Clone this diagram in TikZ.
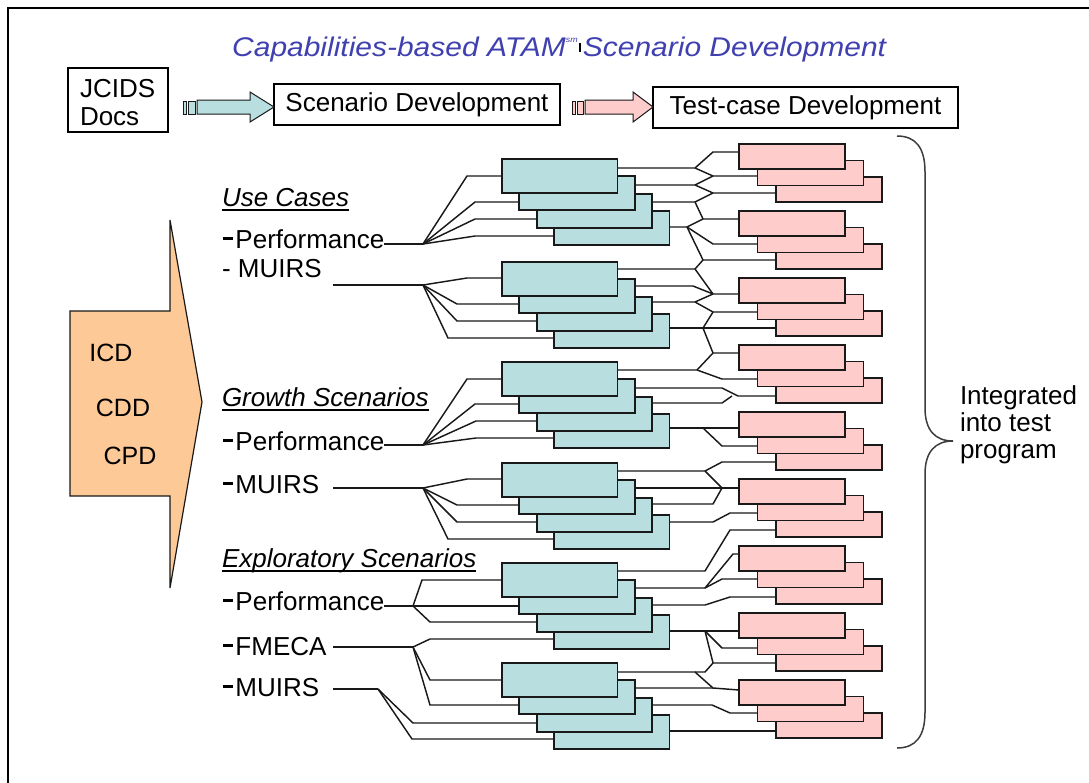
\documentclass[tikz,border=0pt]{standalone}
\usepackage{fontspec}
\setmainfont{Liberation Sans}
\newfontfamily\titlefont[FakeStretch=1.11]{Liberation Sans}
\usetikzlibrary{calc}
\definecolor{cy}{RGB}{184,222,224}
\definecolor{pk}{RGB}{255,204,204}
\definecolor{og}{RGB}{252,201,151}
\definecolor{tb}{RGB}{64,64,176}
\definecolor{ln}{RGB}{25,25,25}
\newcommand{\bdash}{\rule[0.29em]{0.4em}{0.12em}\hspace{0.08em}}
\begin{document}
\begin{tikzpicture}[x=1pt,y=-1pt,
  cbox/.style={draw=ln,line width=1.9pt,fill=cy,minimum width=115.5pt,minimum height=34pt,inner sep=0pt,outer sep=0pt,anchor=north west},
  pbox/.style={draw=ln,line width=1.9pt,fill=pk,minimum width=106pt,minimum height=25pt,inner sep=0pt,outer sep=0pt,anchor=north west},
  wire/.style={draw=ln,line width=1.45pt,line join=miter},
  lbl/.style={inner sep=0pt,outer sep=0pt,anchor=base west,font=\fontsize{26}{30}\selectfont},
  tbox/.style={draw=black,line width=1.2pt,fill=white,inner sep=0pt,outer sep=0pt,anchor=north west,font=\fontsize{26}{30}\selectfont},
  arr/.style={draw=ln,line width=1pt,line join=miter},
]
\useasboundingbox (0,0) rectangle (1089,782);
\fill[white] (0,0) rectangle (1089,782);
\draw[line width=2.5pt] (8,790) -- (8,8) -- (1100,8);

% title
\node[anchor=base west,inner sep=0pt,text=tb,font=\titlefont\itshape\fontsize{27}{30}\selectfont] (title) at (232,56)
  {Capabilities-based ATAM\raisebox{0.5em}{\fontsize{8}{8}\selectfont sm}\kern1pt{\color{black}\rule[0.15em]{2.2pt}{0.35em}}\kern2pt Scenario Development};

% top row
\node[tbox,minimum width=100pt,minimum height=64pt] (jc) at (68,68) {};
\node[lbl] (jct1) at (80,97) {JCIDS};
\node[lbl] (jct2) at (80,125) {Docs};
\node[tbox,minimum width=286pt,minimum height=41pt] (sd) at (274,84) {Scenario Development};
\node[tbox,minimum width=305pt,minimum height=41pt] (td) at (653,87) {Test-case Development};

\draw[arr,fill=cy] (183,101) rectangle (186,114);
\draw[arr,fill=cy] (188,101) rectangle (195,114);
\draw[arr,fill=cy] (197,100) -- (250,100) -- (250,92) -- (sd.west |- 0,107) -- (250,122) -- (250,114) -- (197,114) -- cycle;
\draw[arr,fill=pk] (572,101) rectangle (575,114);
\draw[arr,fill=pk] (577,101) rectangle (583,114);
\draw[arr,fill=pk] (585,100) -- (633,100) -- (633,92) -- (td.west |- 0,107) -- (633,122) -- (633,114) -- (585,114) -- cycle;

% orange arrow
\draw[fill=og,draw=ln,line width=1.2pt,line join=miter] (70,311) -- (170,311) -- (170,220) -- (202,402) -- (170,588) -- (170,496) -- (70,496) -- cycle;
\node[lbl,font=\fontsize{25}{30}\selectfont,anchor=base] (icd) at (111,361) {ICD};
\node[lbl,font=\fontsize{25}{30}\selectfont,anchor=base] (cdd) at (123,416) {CDD};
\node[lbl,font=\fontsize{25}{30}\selectfont,anchor=base] (cpd) at (130,464) {CPD};

% left labels
\node[lbl] (uc) at (222,206) {\itshape Use Cases};
\node[lbl] (pf1) at (223,248) {\bdash Performance};
\node[lbl] (mu1) at (222,277) {- MUIRS};
\node[lbl] (gs) at (222,406) {\itshape Growth Scenarios};
\node[lbl] (pf2) at (223,450) {\bdash Performance};
\node[lbl] (mu2) at (223,493) {\bdash MUIRS};
\node[lbl] (es) at (222,567) {\itshape Exploratory Scenarios};
\node[lbl] (pf3) at (223,610) {\bdash Performance};
\node[lbl] (fm) at (223,655) {\bdash FMECA};
\node[lbl] (mu3) at (223,696) {\bdash MUIRS};
\foreach \n in {uc,gs,es}{
  \draw[line width=1.3pt] ($(\n.base west)+(0,4)$) -- ($(\n.base east)+(0,4)$);
}

% boxes
\foreach \g/\T in {1/159,2/262,3/362,4/463,5/563,6/663}{
  \foreach \i in {4,3,2,1}{
    \node[cbox] (c\g-\i) at ({502+17.33*(\i-1)},{\T+17.33*(\i-1)}) {};
  }
}
\foreach \g/\T in {1/144,2/211,3/278,4/345,5/412,6/479,7/546,8/613,9/680}{
  \foreach \i in {3,2,1}{
    \node[pbox] (p\g-\i) at ({739+18.5*(\i-1)},{\T+16.5*(\i-1)}) {};
  }
}

% left fans
\coordinate (h1) at (423,244);
\coordinate (h2) at (423,285);
\coordinate (h3) at (423,445);
\coordinate (h4) at (423,488);
\coordinate (h5) at (413,606);
\coordinate (h6) at (413,647);
\coordinate (h7) at (378,689);
\coordinate (s2) at (333,285);
\coordinate (s4) at (333,488);
\coordinate (s6) at (333,647);
\coordinate (s7) at (333,689);
\draw[wire] (pf1.east |- h1) -- (h1);
\draw[wire] (s2) -- (h2);
\draw[wire] (pf2.east |- h3) -- (h3);
\draw[wire] (s4) -- (h4);
\draw[wire] (pf3.east |- h5) -- (h5);
\draw[wire] (s6) -- (h6);
\draw[wire] (s7) -- (h7);

\draw[wire] (h1) -- (467,176) -- (c1-1.west |- 0,176);
\draw[wire] (h1) -- (475,202) -- (c1-2.west |- 0,202);
\draw[wire] (h1) -- (475,219) -- (c1-3.west |- 0,219);
\draw[wire] (h1) -- (475,236) -- (c1-4.west |- 0,236);

\draw[wire] (h2) -- (467,278) -- (c2-1.west |- 0,278);
\draw[wire] (h2) -- (457,304) -- (c2-2.west |- 0,304);
\draw[wire] (h2) -- (457,321) -- (c2-3.west |- 0,321);
\draw[wire] (h2) -- (448,338) -- (c2-4.west |- 0,338);

\draw[wire] (h3) -- (467,379) -- (c3-1.west |- 0,379);
\draw[wire] (h3) -- (475,404) -- (c3-2.west |- 0,404);
\draw[wire] (h3) -- (476,421) -- (c3-3.west |- 0,421);
\draw[wire] (h3) -- (476,438) -- (c3-4.west |- 0,438);

\draw[wire] (h4) -- (467,479) -- (c4-1.west |- 0,479);
\draw[wire] (h4) -- (457,505) -- (c4-2.west |- 0,505);
\draw[wire] (h4) -- (457,522) -- (c4-3.west |- 0,522);
\draw[wire] (h4) -- (448,539) -- (c4-4.west |- 0,539);

\draw[wire] (h5) -- (422,580) -- (c5-1.west |- 0,580);
\draw[wire] (h5) -- (c5-2.west |- h5);
\draw[wire] (h5) -- (430,622) -- (c5-3.west |- 0,622);
\draw[wire] (h6) -- (430,639) -- (c5-4.west |- 0,639);
\draw[wire] (h6) -- (430,680) -- (c6-1.west |- 0,680);
\draw[wire] (h6) -- (430,705) -- (c6-2.west |- 0,705);
\draw[wire] (h7) -- (413,723) -- (c6-3.west |- 0,723);
\draw[wire] (h7) -- (412,739) -- (c6-4.west |- 0,739);

% right network
\draw[wire] (c1-1.east |- 0,168) -- (695,168) -- (713,152) -- (p1-1.west |- 0,152);
\draw[wire] (695,168) -- (713,176) -- (p1-2.west |- 0,176);
\draw[wire] (c1-2.east |- 0,185) -- (695,185) -- (713,176);
\draw[wire] (695,185) -- (713,193) -- (p1-3.west |- 0,193);
\draw[wire] (c1-3.east |- 0,202) -- (695,202) -- (713,193);
\draw[wire] (695,202) -- (703,219) -- (p2-1.west |- 0,219);
\draw[wire] (c1-4.east |- 0,227) -- (687,227) -- (703,219);
\draw[wire] (687,227) -- (713,244) -- (p2-2.west |- 0,244);
\draw[wire] (687,227) -- (703,260) -- (p2-3.west |- 0,260);
\draw[wire] (c2-1.east |- 0,269) -- (695,269) -- (703,260);
\draw[wire] (695,269) -- (713,294) -- (p3-1.west |- 0,294);
\draw[wire] (c2-2.east |- 0,286) -- (693,286) -- (713,294);
\draw[wire] (c2-3.east |- 0,302) -- (695,302) -- (713,294);
\draw[wire] (695,302) -- (713,312) -- (p3-2.west |- 0,312);
\draw[wire] (c2-4.east |- 0,328) -- (p3-3.west |- 0,328);
\draw[wire] (703,328) -- (713,312);
\draw[wire] (703,328) -- (713,353) -- (p4-1.west |- 0,353);

\draw[wire] (c3-1.east |- 0,370) -- (697,370) -- (713,353);
\draw[wire] (697,370) -- (722,379) -- (p4-2.west |- 0,379);
\draw[wire] (c3-2.east |- 0,388) -- (722,388) -- (738,396) -- (p4-3.west |- 0,396);
\draw[wire] (c3-3.east |- 0,403) -- (722,403) -- (732,396);
\draw[wire] (c3-4.east |- 0,428) -- (p5-1.west |- 0,428);
\draw[wire] (703,428) -- (722,446) -- (p5-2.west |- 0,446);
\draw[wire] (c4-1.east |- 0,471) -- (705,471) -- (722,462) -- (p5-3.west |- 0,462);
\draw[wire] (705,471) -- (722,488);
\draw[wire] (c4-2.east |- 0,488) -- (p6-1.west |- 0,488);
\draw[wire] (c4-3.east |- 0,504) -- (713,504) -- (722,488);
\draw[wire] (c4-4.east |- 0,522) -- (713,522) -- (730,513) -- (p6-2.west |- 0,513);
\draw[wire] (c5-1.east |- 0,571) -- (705,571) -- (730,530) -- (p6-3.west |- 0,530);

\draw[wire] (c5-2.east |- 0,588) -- (705,588) -- (733,554) -- (p7-1.west |- 0,554);
\draw[wire] (705,588) -- (722,579) -- (p7-2.west |- 0,579);
\draw[wire] (c5-3.east |- 0,605) -- (705,605) -- (730,597) -- (p7-3.west |- 0,597);
\draw[wire] (c5-4.east |- 0,631) -- (p8-1.west |- 0,631);
\draw[wire] (705,631) -- (722,648) -- (p8-2.west |- 0,648);
\draw[wire] (705,631) -- (713,663) -- (p8-3.west |- 0,663);
\draw[wire] (c6-1.east |- 0,672) -- (705,672) -- (713,663);
\draw[wire] (695,672) -- (713,688);
\draw[wire] (c6-2.east |- 0,688) -- (713,688) -- (p9-1.west |- 0,690);
\draw[wire] (c6-3.east |- 0,705) -- (712,705) -- (730,713) -- (p9-2.west |- 0,713);
\draw[wire] (c6-4.east |- 0,731) -- (p9-3.west |- 0,731);

% brace
\draw[line width=1.5pt,draw=ln!85] (897,136) .. controls (916,136) and (925,148) .. (925,172) -- (925,408)
  .. controls (925,430) and (935,441) .. (953,441) .. controls (935,441) and (925,452) .. (925,474) -- (925,712)
  .. controls (925,736) and (916,748) .. (897,748);
\node[lbl] (it1) at (960,404) {Integrated};
\node[lbl] (it2) at (960,431) {into test};
\node[lbl] (it3) at (960,458) {program};
\end{tikzpicture}
\end{document}
